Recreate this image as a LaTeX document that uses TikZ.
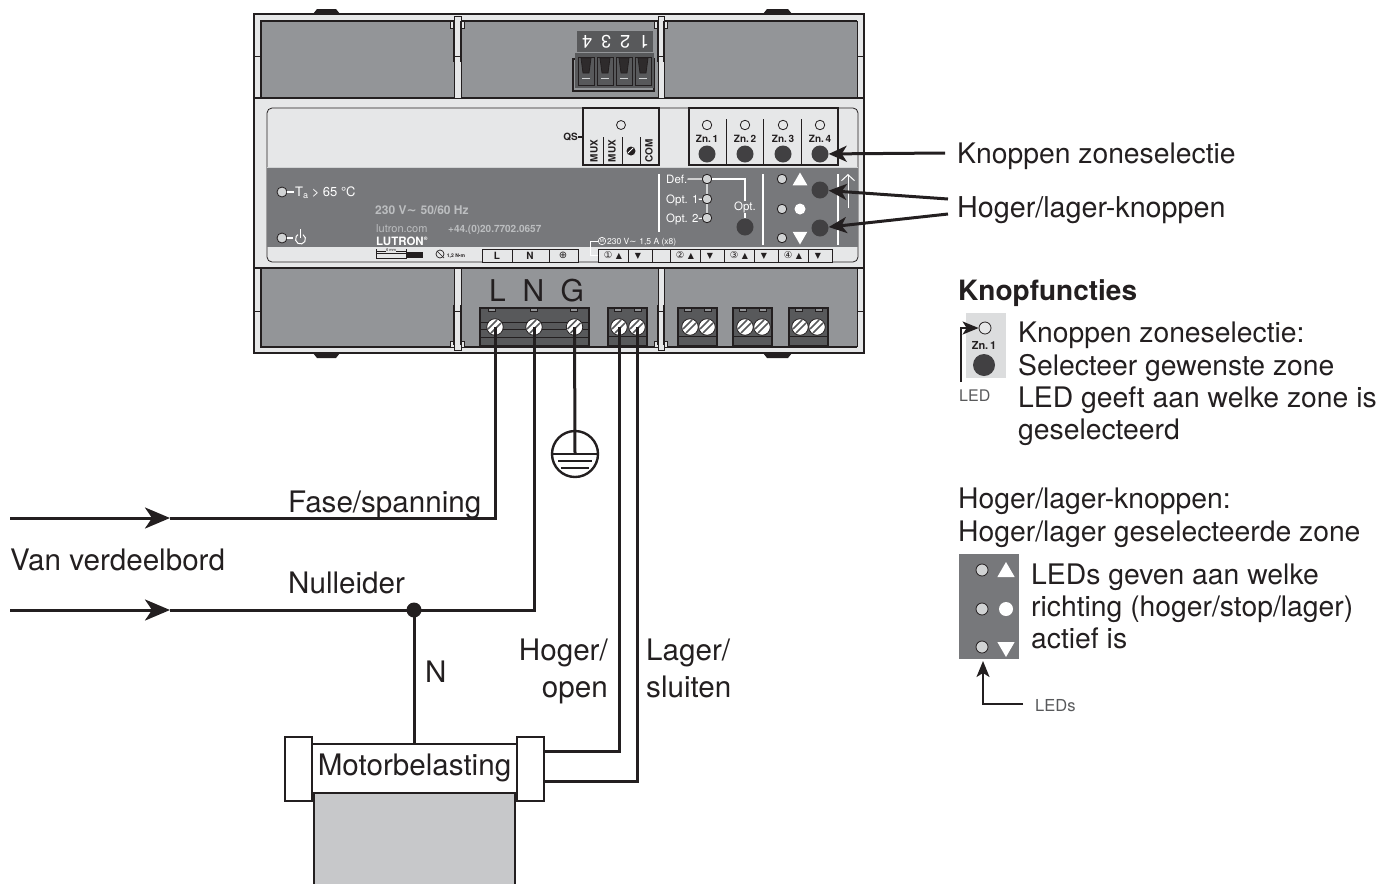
\documentclass[tikz,border=0pt]{standalone}
\usepackage{fontspec}
\setmainfont{TeX Gyre Heros}
\newfontfamily\dejavu{DejaVu Sans}
\usetikzlibrary{arrows.meta,shapes.geometric}
\definecolor{ink}{HTML}{231F20}
\definecolor{lightg}{HTML}{E6E7E8}
\definecolor{legendg}{HTML}{DCDDDE}
\definecolor{topg}{HTML}{939598}
\definecolor{panelg}{HTML}{77787B}
\definecolor{termg}{HTML}{58595B}
\definecolor{btng}{HTML}{414042}
\definecolor{ledg}{HTML}{D1D3D4}
\definecolor{loadg}{HTML}{C7C8CA}
\definecolor{printg}{HTML}{BCBEC0}
\newcommand\fs[1]{\fontsize{#1}{#1}\selectfont}
\tikzset{
 txt/.style={anchor=base west,inner sep=0pt,text=ink,font=\fs{28.3}},
 txtw/.style={anchor=base west,inner sep=0pt,text=ink,font=\fs{29.6}},
 txtr/.style={anchor=base east,inner sep=0pt,text=ink,font=\fs{29.6}},
 small/.style={inner sep=0pt,text=ink,font=\fs{10}\bfseries},
 print/.style={inner sep=0pt,text=white,font=\fs{11.5}},
 wire/.style={draw=ink,line width=3pt},
 ptr/.style={draw=ink,line width=3pt,-{Stealth[length=25pt,width=21pt,inset=7pt]}},
 call/.style={draw=ink,line width=3pt,-{Stealth[length=18pt,width=16pt,inset=5pt]}},
 ptrs/.style={draw=ink,line width=1.6pt,-{Stealth[length=16pt,width=13pt,inset=4pt]}},
 led/.style={circle,draw=ink,line width=.8pt,fill=ledg,minimum size=9.5pt,inner sep=0pt},
 ledo/.style={circle,draw=ink,line width=.8pt,fill=lightg,minimum size=12pt,inner sep=0pt},
 btn/.style={circle,fill=btng,minimum size=17pt,inner sep=0pt},
 screw/.style={circle,draw=ink,line width=.8pt,fill=white,minimum size=16.5pt,inner sep=0pt,
   path picture={\draw[termg,line width=1.5pt]
     ([xshift=-7pt,yshift=-2pt]path picture bounding box.center)--([xshift=2pt,yshift=7pt]path picture bounding box.center)
     ([xshift=-4pt,yshift=-6pt]path picture bounding box.center)--([xshift=6pt,yshift=4pt]path picture bounding box.center);}},
 term/.style={draw=ink,line width=1.5pt,fill=termg},
 case/.style={draw=ink,line width=1.2pt},
 boxl/.style={draw=ink,line width=1.3pt},
 tri/.style={regular polygon,regular polygon sides=3,fill=white,inner sep=0pt,minimum size=17pt},
}
\begin{document}
\begin{tikzpicture}[x=1pt,y=-1pt]
\useasboundingbox (0,0) rectangle (1378,884);
% clips
\foreach \a/\b in {313/340,763/792}{
 \fill[ink] (\a,14)--(\a+4,9)--(\b-4,9)--(\b,14)--cycle;
 \fill[ink] (\a,353)--(\a+4,358)--(\b-4,358)--(\b,353)--cycle;}
% housing
\draw[case,fill=lightg] (254,14) rectangle (864,353);
\fill[topg] (261,21) rectangle (857,98);
\fill[topg] (261,268) rectangle (857,347);
\draw[ink,line width=2.2pt] (261,98)--(261,21)--(857,21);
\draw[ink,line width=1.2pt] (254,98)--(864,98) (254,268)--(864,268);
\draw[ink,line width=1.4pt] (261,268)--(261,347)--(857,347);
\draw[ink,line width=.8pt] (857,21)--(857,98) (857,268)--(857,347);
\draw[ink,line width=.8pt] (254,56)--(261,56) (254,311)--(261,311) (857,56)--(864,56) (857,311)--(864,311);
% dividers
\foreach \a/\b in {454/461,658/664}{
 \draw[ink,line width=1pt,fill=lightg] (\a-3.5,21) rectangle (\b+3.5,28);
 \draw[ink,line width=.8pt,fill=lightg] (\a,16) rectangle (\b,98);
 \draw[ink,line width=.8pt] (\a,56)--(\b,56);
 \draw[ink,line width=1.4pt] (\a,21)--(\a,62) (\b,21)--(\b,62);
 \draw[ink,line width=1pt,fill=lightg] (\a-3.5,341) rectangle (\b+3.5,347);
 \draw[ink,line width=.8pt,fill=lightg] (\a,268) rectangle (\b,350);
 \draw[ink,line width=.8pt] (\a,311)--(\b,311);
 \draw[ink,line width=1.4pt] (\a,305)--(\a,345) (\b,305)--(\b,345);
}
% top plug
\fill[termg] (577,31) rectangle (653,52);
\foreach \d/\x in {1/644,2/625,3/606,4/587}
 \node[rotate=180,inner sep=0pt,text=white,font=\fs{18}] (d\d) at (\x,41.5) {\d};
\draw[term,fill=topg] (573,59) rectangle (654,91);
\fill[termg] (575,53) rectangle (654,88);
\foreach \x in {578,597,616,635}{
 \draw[ink,line width=1pt,fill=termg] (\x,57) rectangle (\x+16,85);
 \draw[ink,line width=.8pt,fill=ink!80!termg] (\x+3,58)--(\x+13,58)--(\x+11,73)--(\x+5,73)--cycle;
 \draw[ledg,line width=.6pt] (\x+4,78)--(\x+12,78);
}
% panel
\draw[ink,line width=.8pt,fill=lightg,rounded corners=5pt] (267,108) rectangle (858,262);
\fill[panelg] (267.4,167) rectangle (857.6,247);
\draw[ledg,line width=.6pt] (267,167)--(858,167);
% QS block
\draw[boxl,fill=lightg] (583,108) rectangle (659,165);
\node[led,fill=lightg,minimum size=9pt] (qsled) at (621,125) {};
\draw[ink,line width=.8pt] (603,137)--(603,165) (622,137)--(622,165) (640,137)--(640,165);
\node[small,anchor=east] (qs) at (578,137) {QS};
\coordinate (qsin) at (583,137);
\draw[ink,line width=1.2pt] (qs.east)--(qsin);
\node[small,rotate=90] (mux1) at (594,151) {MUX};
\node[small,rotate=90] (mux2) at (612,151) {MUX};
\node[circle,fill=ink,minimum size=9pt,inner sep=0pt] (qscrew) at (631,151) {};
\draw[white,line width=.8pt] (628,153)--(633,148);
\node[small,rotate=90] (com) at (649,151) {COM};
% zones
\draw[boxl,fill=lightg] (689,108) rectangle (838,165);
\foreach \x in {726,763,801} \draw[ink,line width=.8pt] (\x,119)--(\x,165);
\foreach \n/\x in {1/707,2/745,3/783,4/820}{
 \node[led,fill=lightg,minimum size=9.5pt] (zl\n) at (\x,125) {};
 \node[small] (zt\n) at (\x,139) {Zn.\,\n};
 \node[btn] (zb\n) at (\x,154) {};
}
% dark panel lines
\draw[white,line width=1.2pt] (659,174)--(659,232) (763,174)--(763,245) (838,174)--(838,245);
% left print
\node[led,minimum size=10pt] (tl) at (282,192) {};
\node[print,anchor=base west,font=\fs{13}] (tt) at (295,196) {T\raisebox{-2pt}{\fs{9}a} > 65 °C};
\coordinate (tt1) at (294,192);
\draw[white,line width=1.2pt] (tl)--(tt1);
\node[led,minimum size=10pt] (pl) at (282,238) {};
\coordinate (pl1) at (293,238);
\draw[white,line width=1.2pt] (pl)--(pl1);
\draw[white,line width=1pt] (303,234.67) arc[start angle=-60,end angle=240,radius=5];
\draw[white,line width=1pt] (300.5,229)--(300.5,238);
\node[print,anchor=base west,text=printg,font=\fs{12}\bfseries] (volt) at (375,214) {230 V{\dejavu\fs{12}∼}\,\,50/60 Hz};
\node[print,anchor=base west,text=printg,font=\fs{11}] (web) at (376,232) {lutron.com};
\node[print,anchor=base west,text=printg,font=\fs{10}\bfseries] (tel) at (448,232) {+44.(0)20.7702.0657};
\node[print,anchor=base west,text=white,font=\fs{11.5}\bfseries] (logo) at (376,245) {LUTRON\textsuperscript{\fs{5}®}};
% right print
\node[print,anchor=base west] (def) at (666,183) {Def.};
\node[print,anchor=base west] (o1) at (666,203) {Opt. 1};
\node[print,anchor=base west] (o2) at (666,222.5) {Opt. 2};
\node[led] (ld) at (707,179) {};
\node[led] (l1) at (707,199) {};
\node[led] (l2) at (707,218) {};
\draw[ledg,line width=1.2pt] (ld)--(l1)--(l2);
\draw[white,line width=1.2pt] (def)--(ld) (o1)--(l1) (o2)--(l2);
\node[print] (opt) at (745,207) {Opt.};
\node[btn] (bopt) at (745,227) {};
\draw[white,line width=1.2pt] (ld) -| (opt.north);
\draw[white,line width=1.2pt] (opt)--(bopt);
\foreach \n/\y in {a/179,b/209,c/238}\node[led] (r\n) at (782,\y) {};
\node[tri] (up) at (800,181) {};
\node[circle,fill=white,minimum size=11pt,inner sep=0pt] (stop) at (800,209) {};
\node[tri,rotate=180] (down) at (800,236) {};
\node[btn] (bup) at (820,190) {};
\node[btn] (bdn) at (820,228) {};
\coordinate (wa) at (848,208);
\coordinate (wb) at (848,174);
\draw[white,line width=1pt,-{Straight Barb[length=6pt,width=13pt]}] (wa)--(wb);
% strip
\draw[ink,line width=.9pt,fill=lightg] (482,249) rectangle (578,262);
\draw[ink,line width=.7pt] (512,249)--(512,262) (549,249)--(549,262);
\node[small] (sl) at (497,256) {L};
\node[small] (sn) at (530,256) {N};
\node[small,font=\dejavu\fs{10}] (sg) at (563,255.5) {⊕};
\draw[ink,line width=.9pt,fill=lightg] (598,249) rectangle (832,262);
\foreach \x in {628,652,670,700,724,754,778,808} \draw[ink,line width=.7pt] (\x,249)--(\x,262);
\foreach \n/\s/\x in {1/①/608,2/②/680,3/③/734,4/④/788}{
 \node[small,font=\dejavu\fs{9.5}] (c\n) at (\x,255) {\s};
 \node[small,font=\dejavu\fs{8}] (u\n) at (\x+11,256) {▲};
 \node[small,font=\dejavu\fs{8}] (v\n) at (\x+30,256) {▼};
}
\node[print,anchor=base west,text=white,font=\fs{8.5}] (mt) at (607,244) {230 V{\dejavu\fs{8.5}∼}\,\,1,5 A (x8)};
\node[circle,draw=white,line width=.6pt,minimum size=7.5pt,inner sep=0pt,text=white,font=\fs{5}] (mm) at (602,241) {M};
\coordinate (mb) at (598,255);
\draw[white,line width=.9pt] (mb)-|(590,241)--(mm);
% gauge
\draw[ink,line width=.7pt] (376,249)--(376,253) (406,249)--(406,253) (376,251)--(406,251);
\fill[ink] (406,252) rectangle (423,258);
\draw[ink,line width=.7pt] (376,253) rectangle (406,258);
\node[inner sep=0pt,text=lightg,fill=lightg,font=\fs{4}] (six) at (391,250.5) {\textcolor{ink}{6 mm}};
\node[small,font=\fs{5}\bfseries] (torq) at (456,256) {1,2 N•m};
\node[circle,draw=ink,line width=.7pt,minimum size=8pt,inner sep=0pt] (tq) at (440,254) {};
\draw[ink,line width=.7pt] (437,251)--(444,258);
% bottom terminals
\draw[term] (480,308) rectangle (589,346);
\draw[ink,line width=1pt] (480,322)--(589,322) (480,329.5)--(589,329.5) (480,337)--(589,337);
\foreach \x in {492,534,574}\draw[ink,line width=.6pt,fill=topg] (\x-3.5,308) rectangle (\x+3.5,311);
\foreach \a in {608,678,733,789}{
 \draw[term] (\a,308) rectangle (\a+39,346);
 \draw[ink,line width=1pt] (\a,336)--(\a+39,336);
 \foreach \d in {8,28}\draw[ink,line width=.6pt,fill=topg] (\a+\d-2,308) rectangle (\a+\d+5,311);
}
\node[screw] (sL) at (495,327) {};
\node[screw] (sN) at (534,327) {};
\node[screw] (sG) at (574.5,327) {};
\node[screw] (s1) at (619,327) {};
\node[screw] (s2) at (637,327) {};
\foreach \x in {690,707,745,762,800,817} \node[screw] (s\x) at (\x,327) {};
\node[txt,font=\fs{30}] (tL) at (489,301) {L};
\node[txt,font=\fs{30}] (tN) at (522.5,301) {N};
\node[txt,font=\fs{30}] (tG) at (560.5,301) {G};
% wiring
\coordinate (fa) at (10,518);
\coordinate (fb) at (170,518);
\coordinate (na) at (10,610);
\coordinate (nb) at (170,610);
\draw[ptr] (fa)--(fb);
\draw[ptr] (na)--(nb);
\draw[wire] (sL.center)--(495,518)--(fb);
\draw[wire] (sN.center)--(534,610)--(nb);
\node[circle,fill=ink,minimum size=15pt,inner sep=0pt] (dot) at (414,610) {};
% ground
\node[circle,draw=ink,line width=2.4pt,minimum size=46pt,inner sep=0pt] (gnd) at (575,454) {};
\draw[wire] (sG.center)--(gnd.center);
\draw[ink,line width=2.4pt] (gnd.west)--(gnd.east);
\draw[ink,line width=2.4pt] (558,461)--(592,461) (561,468)--(589,468);
% motor
\node[draw=ink,line width=1.4pt,fill=white,minimum width=27pt,minimum height=64pt,inner sep=0pt] (capl) at (298.5,769) {};
\node[draw=ink,line width=1.4pt,fill=white,minimum width=27pt,minimum height=64pt,inner sep=0pt] (capr) at (530.5,769) {};
\fill[loadg] (314,793) rectangle (515,884);
\draw[ink,line width=1.4pt] (314,793)--(314,884) (515,793)--(515,884);
\node[draw=ink,line width=1.4pt,fill=white,minimum width=205pt,minimum height=49pt,inner sep=0pt] (motor) at (414.5,768.5) {};
\node[txtw,anchor=base] (mtxt) at (414.5,775) {Motorbelasting};
\draw[wire] (dot.center)--(dot.center|-motor.north);
\coordinate (m1) at (544,751);
\coordinate (m2) at (544,781);
\draw[wire] (m1)-|(s1.center);
\draw[wire] (m2)-|(s2.center);
% callouts
\coordinate (k1) at (945,153);
\coordinate (h1) at (948,199);
\coordinate (h2) at (948,214);
\draw[call] (k1)--(zb4);
\draw[call] (h1)--(bup);
\draw[call] (h2)--(bdn);
% texts
\node[txt] (t1) at (957,163) {Knoppen zoneselectie};
\node[txt,font=\fs{28.7}] (t2) at (957,217) {Hoger/lager-knoppen};
\node[txt,font=\fs{28}\bfseries] (t3) at (958,300) {Knopfuncties};
\node[txt] (t4) at (1018,342) {Knoppen zoneselectie:};
\node[txt] (t5) at (1018,375) {Selecteer gewenste zone};
\node[txt] (t6) at (1018,407) {LED geeft aan welke zone is};
\node[txt] (t7) at (1018,439) {geselecteerd};
\node[txt] (t8) at (958,508) {Hoger/lager-knoppen:};
\node[txt] (t9) at (958,541) {Hoger/lager geselecteerde zone};
\node[txt] (t10) at (1031,584) {LEDs geven aan welke};
\node[txt] (t11) at (1031,616) {richting (hoger/stop/lager)};
\node[txt] (t12) at (1031,648) {actief is};
\node[txtw] (t13) at (10,570) {Van verdeelbord};
\node[txtw] (t14) at (288,512) {Fase/spanning};
\node[txtw] (t15) at (288,593) {Nulleider};
\node[txtw] (t16) at (425,682) {N};
\node[txtr] (t17) at (608,660) {Hoger/};
\node[txtr] (t18) at (608,697) {open};
\node[txtw] (t19) at (646,660) {Lager/};
\node[txtw] (t20) at (646,697) {sluiten};
% legend 1
\fill[legendg] (966,313) rectangle (1006,378);
\node[ledo,fill=lightg] (lled) at (985,328) {};
\node[small,font=\fs{11}\bfseries] (lzn) at (984,345) {Zn.\,1};
\node[btn,minimum size=22pt] (lbtn) at (984,365) {};
\coordinate (lfrom) at (961,382);
\draw[ptrs] (lfrom)|-(lled.west);
\node[txt,font=\fs{16},text=termg] (lledt) at (959,401) {LED};
% legend 2
\fill[panelg] (959,554) rectangle (1019,659);
\foreach \n/\y in {a/570,b/609,c/647}\node[ledo,fill=ledg] (q\n) at (982,\y) {};
\node[tri,minimum size=20pt] (qu) at (1006,572) {};
\node[circle,fill=white,minimum size=14pt,inner sep=0pt] (qs2) at (1006,609) {};
\node[tri,minimum size=20pt,rotate=180] (qd) at (1006,647) {};
\coordinate (qfrom) at (1023,704);
\coordinate (qto) at (983,661);
\draw[ptrs] (qfrom)-|(qto);
\node[txt,font=\fs{16.5},text=termg] (qt) at (1035,711) {LEDs};
\end{tikzpicture}
\end{document}
